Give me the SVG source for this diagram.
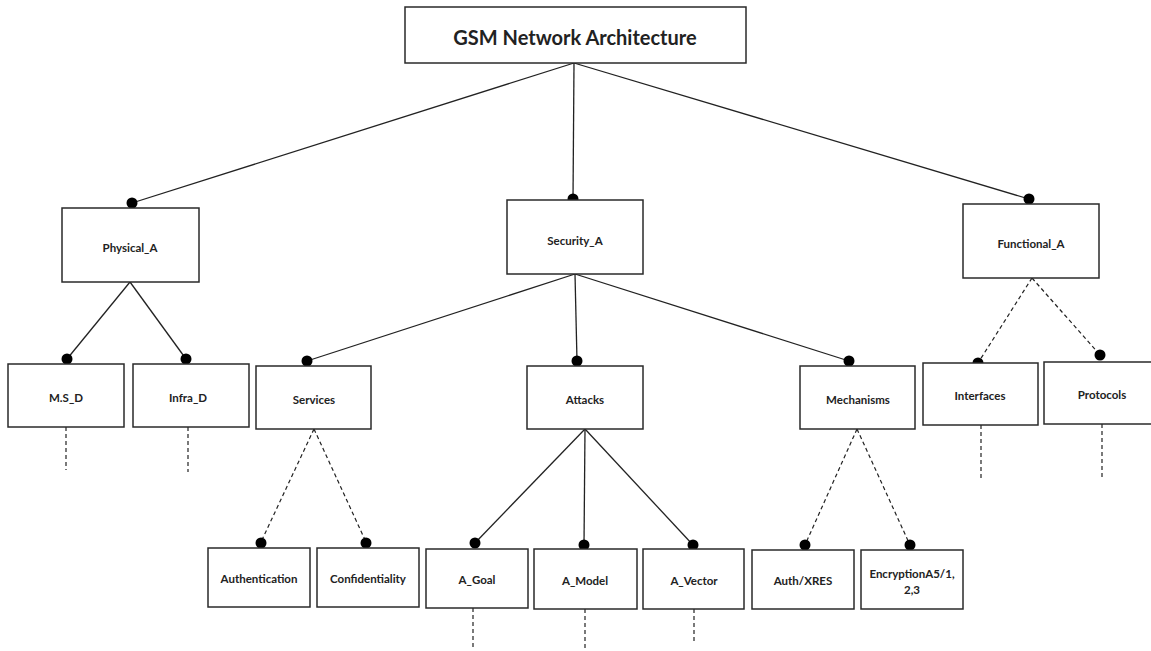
<svg xmlns="http://www.w3.org/2000/svg" width="1151" height="651" viewBox="0 0 1151 651">
<style>
.box{fill:#fff;stroke:#2a2a2a;stroke-width:1.5}
.t{font-family:Lato,"Liberation Sans",sans-serif;font-weight:bold;font-size:11.5px;fill:#222;text-anchor:middle;dominant-baseline:central}
.title{font-size:20px}
.s{stroke:#222;stroke-width:1.3;fill:none}
.d{stroke:#222;stroke-width:1.2;fill:none;stroke-dasharray:4 3}
.dt{fill:#000}
</style>
<rect width="1151" height="651" fill="#fff"/>
<g id="connectors">
<line class="s" x1="574" y1="63" x2="132" y2="203"/>
<line class="s" x1="574" y1="63" x2="573" y2="199"/>
<line class="s" x1="574" y1="63" x2="1029" y2="199"/>
<line class="s" x1="130" y1="282" x2="67" y2="359"/>
<line class="s" x1="130" y1="282" x2="186" y2="359"/>
<line class="s" x1="575" y1="274" x2="307" y2="361"/>
<line class="s" x1="575" y1="274" x2="577" y2="361"/>
<line class="s" x1="575" y1="274" x2="849" y2="361"/>
<line class="s" x1="585" y1="429" x2="475" y2="543"/>
<line class="s" x1="585" y1="429" x2="584" y2="545"/>
<line class="s" x1="585" y1="429" x2="693" y2="545"/>
<line class="d" x1="314" y1="429" x2="261" y2="542"/>
<line class="d" x1="314" y1="429" x2="366" y2="542"/>
<line class="d" x1="857" y1="429" x2="805" y2="545"/>
<line class="d" x1="857" y1="429" x2="910" y2="545"/>
<line class="d" x1="1032" y1="278" x2="978" y2="363"/>
<line class="d" x1="1032" y1="278" x2="1100" y2="355"/>
<line class="d" x1="66" y1="427" x2="66" y2="470"/>
<line class="d" x1="188" y1="427" x2="188" y2="472"/>
<line class="d" x1="473" y1="608" x2="473" y2="650"/>
<line class="d" x1="585" y1="609" x2="585" y2="650"/>
<line class="d" x1="694" y1="609" x2="694" y2="643" stroke-dasharray="2 1.5"/>
<line class="d" x1="981" y1="425" x2="981" y2="480"/>
<line class="d" x1="1102" y1="424" x2="1102" y2="480"/>
<circle class="dt" cx="132" cy="203" r="5.5"/>
<circle class="dt" cx="573" cy="199" r="5.5"/>
<circle class="dt" cx="1029" cy="199" r="5.5"/>
<circle class="dt" cx="67" cy="359" r="5.5"/>
<circle class="dt" cx="186" cy="359" r="5.5"/>
<circle class="dt" cx="307" cy="361" r="5.5"/>
<circle class="dt" cx="577" cy="361" r="5.5"/>
<circle class="dt" cx="849" cy="361" r="5.5"/>
<circle class="dt" cx="978" cy="363" r="5.5"/>
<circle class="dt" cx="1100" cy="355" r="5.5"/>
<circle class="dt" cx="261" cy="543" r="5.5"/>
<circle class="dt" cx="366" cy="543" r="5.5"/>
<circle class="dt" cx="475" cy="543" r="5.5"/>
<circle class="dt" cx="584" cy="545" r="5.5"/>
<circle class="dt" cx="693" cy="545" r="5.5"/>
<circle class="dt" cx="805" cy="545" r="5.5"/>
<circle class="dt" cx="910" cy="545" r="5.5"/>
</g>
<g id="n-root"><rect class="box" x="405" y="7" width="341" height="56"/><text class="t title" x="575" y="37">GSM Network Architecture</text></g>
<g id="n-physical"><rect class="box" x="62" y="208" width="137" height="74"/><text class="t" x="130" y="247">Physical_A</text></g>
<g id="n-security"><rect class="box" x="507" y="200" width="136" height="74"/><text class="t" x="575" y="240">Security_A</text></g>
<g id="n-functional"><rect class="box" x="963" y="204" width="136" height="74"/><text class="t" x="1031" y="243">Functional_A</text></g>
<g id="n-msd"><rect class="box" x="8" y="364" width="116" height="63"/><text class="t" x="66" y="397">M.S_D</text></g>
<g id="n-infra"><rect class="box" x="133" y="364" width="116" height="63"/><text class="t" x="188" y="397">Infra_D</text></g>
<g id="n-services"><rect class="box" x="256" y="366" width="115" height="63"/><text class="t" x="314" y="399">Services</text></g>
<g id="n-attacks"><rect class="box" x="527" y="366" width="116" height="63"/><text class="t" x="585" y="399">Attacks</text></g>
<g id="n-mechanisms"><rect class="box" x="800" y="366" width="115" height="63"/><text class="t" x="858" y="399">Mechanisms</text></g>
<g id="n-interfaces"><rect class="box" x="923" y="363" width="115" height="62"/><text class="t" x="980" y="395">Interfaces</text></g>
<g id="n-protocols"><rect class="box" x="1044" y="362" width="112" height="62"/><text class="t" x="1102" y="394">Protocols</text></g>
<g id="n-auth"><rect class="box" x="208" y="548" width="102" height="59"/><text class="t" x="259" y="578">Authentication</text></g>
<g id="n-conf"><rect class="box" x="317" y="548" width="102" height="59"/><text class="t" x="368" y="578">Confidentiality</text></g>
<g id="n-agoal"><rect class="box" x="426" y="549" width="102" height="59"/><text class="t" x="477" y="579">A_Goal</text></g>
<g id="n-amodel"><rect class="box" x="534" y="549" width="103" height="60"/><text class="t" x="585" y="580">A_Model</text></g>
<g id="n-avector"><rect class="box" x="643" y="549" width="101" height="60"/><text class="t" x="694" y="580">A_Vector</text></g>
<g id="n-authxres"><rect class="box" x="752" y="550" width="102" height="59"/><text class="t" x="803" y="580">Auth/XRES</text></g>
<g id="n-enc"><rect class="box" x="861" y="550" width="102" height="59"/><text class="t" x="912" y="573">EncryptionA5/1,</text><text class="t" x="912" y="589">2,3</text></g>
</svg>
